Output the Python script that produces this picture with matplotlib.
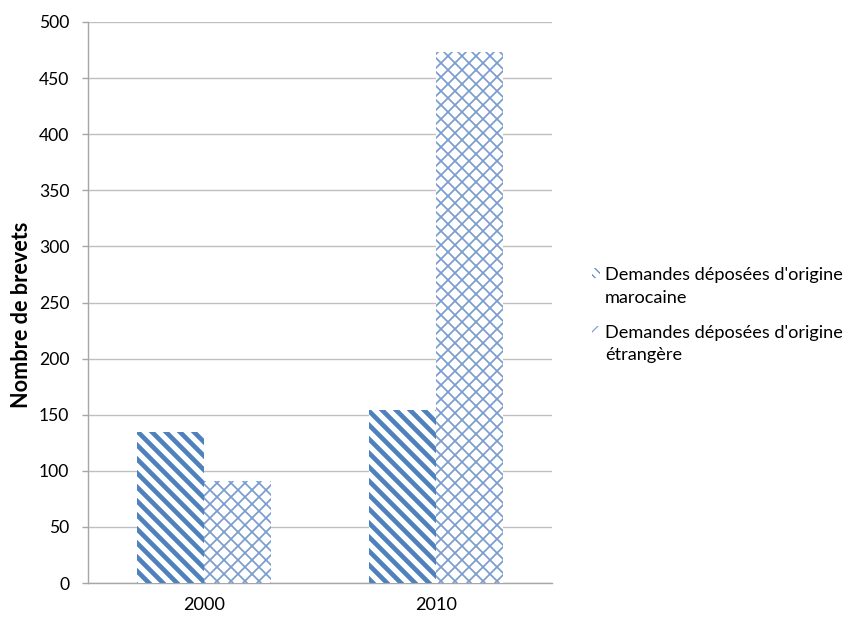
import matplotlib
matplotlib.use('Agg')
import matplotlib.pyplot as plt
import matplotlib.patches as mpatches
from matplotlib.legend_handler import HandlerPatch
import numpy as np

years = ["2000", "2010"]
marocaine = [135, 154]
etrangere = [91, 473]
labels = ["Demandes déposées d'origine\nmarocaine", "Demandes déposées d'origine\nétrangère"]
yticks = [0, 50, 100, 150, 200, 250, 300, 350, 400, 450, 500]

DPI = 84
plt.rcParams['font.family'] = ['Lato', 'DejaVu Sans']

C1 = '#4F81BD'
C2 = '#7A9DD0'


class TopHandler(HandlerPatch):
    # put the little marker next to the first text line, like Excel does
    def create_artists(self, legend, orig_handle, xdescent, ydescent, width, height, fontsize, trans):
        p = mpatches.Rectangle((-xdescent, -ydescent + fontsize * 0.75), width, height,
                               facecolor='white', edgecolor=orig_handle.get_edgecolor(),
                               hatch=orig_handle.get_hatch(), linewidth=0, transform=trans)
        return [p]


fig = plt.figure(figsize=(849 / DPI, 617 / DPI), dpi=DPI)
ax = fig.add_axes([88 / 849, 1 - 583 / 617, 464 / 849, 561 / 617])

x = np.arange(len(years))
w = 0.289

with plt.rc_context({'hatch.linewidth': 4.0}):
    b1 = ax.bar(x - w / 2, marocaine, w, facecolor='white', edgecolor=C1,
                hatch='\\\\', linewidth=0, zorder=3)
with plt.rc_context({'hatch.linewidth': 1.5}):
    b2 = ax.bar(x + w / 2, etrangere, w, facecolor='white', edgecolor=C2,
                hatch='xx', linewidth=0, zorder=3)

ax.set_xlim(-0.5, 1.5)
ax.set_ylim(0, 500)
ax.set_yticks(yticks)
ax.set_xticks(x)
ax.set_xticklabels(years)
ax.yaxis.grid(True, color='#BFBFBF', linewidth=1.2)
ax.set_axisbelow(True)
for s in ['top', 'right']:
    ax.spines[s].set_visible(False)
for s in ['left', 'bottom']:
    ax.spines[s].set_color('#A6A6A6')
    ax.spines[s].set_linewidth(1.2)
ax.tick_params(axis='y', length=5, color='#A6A6A6', width=1.2, labelsize=15, pad=11)
ax.tick_params(axis='x', length=0, labelsize=15.5, pad=12)
ax.set_ylabel('Nombre de brevets', fontsize=18.5, fontweight='bold')
ax.yaxis.set_label_coords(-0.121, 0.478)

with plt.rc_context({'hatch.linewidth': 1.5}):
    h1 = mpatches.Patch(facecolor='white', edgecolor=C1, hatch='\\\\\\', linewidth=0)
    h2 = mpatches.Patch(facecolor='white', edgecolor=C2, hatch='x', linewidth=0)
leg = fig.legend([h1, h2], labels, loc='upper left', bbox_to_anchor=(585 / 849, 1 - 260 / 617),
                 frameon=False, fontsize=15.5, handlelength=0.45, handleheight=0.45,
                 handletextpad=0.25, labelspacing=1.05, borderaxespad=0,
                 handler_map={mpatches.Patch: TopHandler()})
for t in leg.get_texts():
    t.set_linespacing(1.5)

fig.savefig('out.png', dpi=DPI)
